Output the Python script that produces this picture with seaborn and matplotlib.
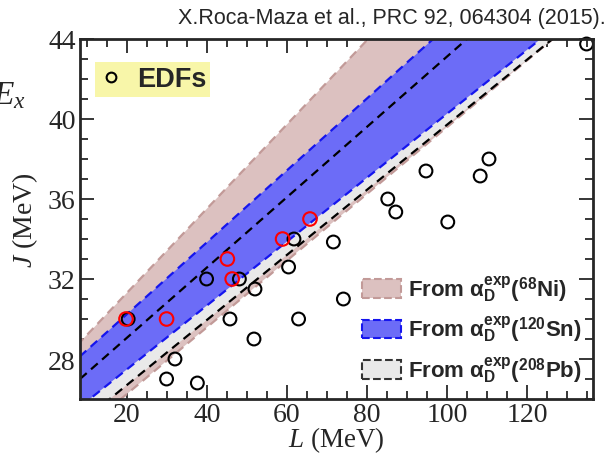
import numpy as np
import pandas as pd
import matplotlib
matplotlib.use("Agg")
import matplotlib.pyplot as plt
from matplotlib.patches import Patch
from matplotlib.lines import Line2D
import seaborn as sns

# EDF predictions (L, J) in MeV
edf_L = [20.3, 29.9, 32.0, 37.6, 39.9, 45.75, 48.1, 51.75, 52.0, 60.4, 61.75,
         62.9, 71.6, 74.1, 85.2, 87.2, 94.75, 100.2, 108.3, 110.5, 134.9]
edf_J = [30.0, 27.0, 28.0, 26.8, 32.0, 30.0, 32.0, 29.0, 31.5, 32.6, 34.0,
         30.0, 33.85, 31.0, 36.0, 35.35, 37.4, 34.85, 37.15, 38.0, 43.75]

# EDFs compatible with all three constraints (red)
sel_L = [19.75, 29.9, 45.1, 46.3, 58.9, 65.75]
sel_J = [30.0, 30.0, 33.0, 32.0, 34.0, 35.0]

# band edges: J = J0 + slope * L  (lower, upper)
ni_J0, ni_slope = [22.92, 27.1], [0.1667, 0.2105]
sn_J0, sn_slope = [24.29, 26.65], [0.1597, 0.1797]
pb_J0, pb_slope = [23.45, 25.55], [0.1626, 0.1757]

band_labels = [r"From α$_\mathrm{D}^\mathrm{exp}$($^\mathrm{68}$Ni)",
               r"From α$_\mathrm{D}^\mathrm{exp}$($^\mathrm{120}$Sn)",
               r"From α$_\mathrm{D}^\mathrm{exp}$($^\mathrm{208}$Pb)"]

sns.set_style("ticks")
plt.rcParams["font.family"] = ["Liberation Serif", "DejaVu Serif"]
plt.rcParams["mathtext.fontset"] = "custom"
plt.rcParams["mathtext.rm"] = "Liberation Sans:bold"
plt.rcParams["mathtext.bf"] = "Liberation Sans:bold"
plt.rcParams["mathtext.it"] = "Liberation Serif:italic"

fig = plt.figure(figsize=(6.1, 4.56), dpi=100)
ax = fig.add_axes([0.1311, 0.1228, 0.841, 0.7895])

L = np.linspace(0, 140, 50)

def edge(J0, slope):
    return J0 + slope * L

ni_fill, ni_edge = "#dcc1c0", "#c29a98"
sn_fill, sn_edge = "#6c6cf7", "#1515ee"
pb_fill, pb_edge = "#e9e9e9", "#000000"
dash = (0, (4, 2.6))

ax.fill_between(L, edge(ni_J0[0], ni_slope[0]), edge(ni_J0[1], ni_slope[1]),
                color=ni_fill, lw=0, zorder=1)
ax.fill_between(L, edge(pb_J0[0], pb_slope[0]), edge(pb_J0[1], pb_slope[1]),
                color=pb_fill, lw=0, zorder=2)
ax.fill_between(L, edge(sn_J0[0], sn_slope[0]), edge(sn_J0[1], sn_slope[1]),
                color=sn_fill, lw=0, zorder=3)

for J0s, slopes, col, z in [(ni_J0, ni_slope, ni_edge, 4),
                            (sn_J0, sn_slope, sn_edge, 5),
                            (pb_J0, pb_slope, pb_edge, 6)]:
    for J0, s in zip(J0s, slopes):
        sns.lineplot(x=L, y=edge(J0, s), ax=ax, color=col, lw=1.6,
                     linestyle=dash, zorder=z, legend=False)

edf = pd.DataFrame({"L": edf_L, "J": edf_J})
sel = pd.DataFrame({"L": sel_L, "J": sel_J})
sns.scatterplot(data=edf, x="L", y="J", ax=ax, marker="o", s=85,
                facecolor="none", edgecolor="black", linewidth=1.5,
                zorder=7, legend=False, clip_on=False)
sns.scatterplot(data=sel, x="L", y="J", ax=ax, marker="o", s=95,
                facecolor="none", edgecolor="#ff0000", linewidth=1.5,
                zorder=8, legend=False)

ax.set_xlim(8.25, 136.5)
ax.set_ylim(26, 44)
ax.set_xticks([20, 40, 60, 80, 100, 120])
ax.set_yticks([28, 32, 36, 40, 44])
ax.set_xticks(np.arange(10, 136, 5), minor=True)
ax.set_yticks(np.arange(26, 45, 1), minor=True)
ax.tick_params(which="both", direction="in", top=True, right=True,
               width=1.3, labelsize=20, pad=3)
ax.tick_params(axis="x", which="both", pad=2)
ax.tick_params(which="major", length=10)
ax.tick_params(which="minor", length=6)
for sp in ax.spines.values():
    sp.set_linewidth(2)
    sp.set_zorder(10)

ax.set_xlabel(r"$L$ (MeV)", fontsize=19.5, labelpad=-1.5)
ax.set_ylabel(r"$J$ (MeV)", fontsize=20, labelpad=6)

# EDF legend (yellow box)
edf_handle = Line2D([], [], marker="o", ls="none", markersize=7,
                    markerfacecolor="none", markeredgecolor="black", mew=1.5)
leg1 = ax.legend([edf_handle], ["EDFs"], loc="upper left",
                 bbox_to_anchor=(0.029, 0.935), borderaxespad=0,
                 frameon=True, fancybox=False,
                 borderpad=0.15, handlelength=0.9, handletextpad=0.5,
                 prop={"family": "Liberation Sans", "weight": "bold", "size": 19.5})
leg1.get_frame().set_facecolor("#f8f6a0")
leg1.get_frame().set_edgecolor("none")
leg1.get_frame().set_alpha(0.9)
ax.add_artist(leg1)

band_handles = [Patch(facecolor=ni_fill, edgecolor=ni_edge, linestyle="--", lw=1.5),
                Patch(facecolor=sn_fill, edgecolor=sn_edge, linestyle="--", lw=1.5),
                Patch(facecolor=pb_fill, edgecolor="#333333", linestyle="--", lw=1.5)]
leg2 = ax.legend(band_handles, band_labels, loc="lower right",
                 bbox_to_anchor=(0.995, 0.015), borderaxespad=0, frameon=False,
                 handlelength=1.75, handleheight=0.9, handletextpad=0.3,
                 labelspacing=0.45,
                 prop={"family": "Liberation Sans", "weight": "bold", "size": 16})
leg2.set_zorder(11)

fig.text(0.993, 0.948, "X.Roca-Maza et al., PRC 92, 064304 (2015).",
         ha="right", va="baseline", fontsize=15.5,
         family=["Liberation Sans", "DejaVu Sans"])
fig.text(-0.012, 0.79, r"$E_x$", fontsize=24, ha="left", va="center")

fig.savefig("out.png", dpi=100)
